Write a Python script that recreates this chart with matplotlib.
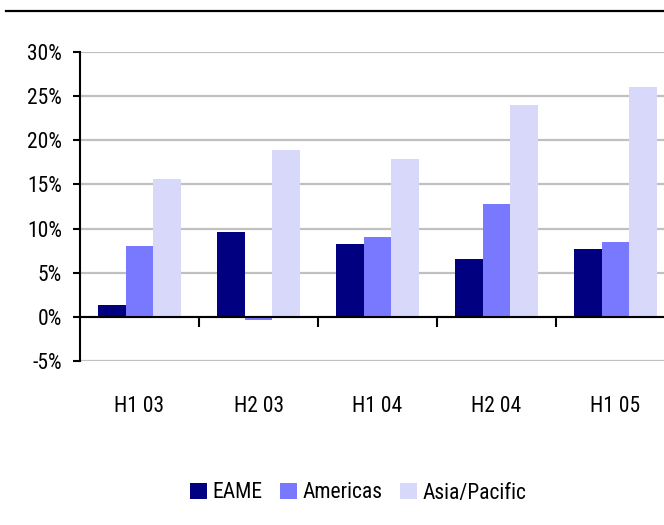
import matplotlib
matplotlib.use("Agg")
import matplotlib.pyplot as plt
from matplotlib.lines import Line2D
from matplotlib.ticker import FixedLocator, FuncFormatter
from matplotlib import font_manager
import numpy as np

categories = ["H1 03", "H2 03", "H1 04", "H2 04", "H1 05"]
series_names = ["EAME", "Americas", "Asia/Pacific"]
eame = [1.3, 9.6, 8.2, 6.6, 7.7]
americas = [8.0, -0.4, 9.0, 12.8, 8.5]
asia_pacific = [15.6, 18.9, 17.9, 24.0, 26.0]
y_ticks = [-5, 0, 5, 10, 15, 20, 25, 30]

colors = ["#000080", "#7979FF", "#D8D8FA"]

# pick a condensed font if one is installed
fam, stretch = 'Liberation Sans', 'normal'
names = {(f.name, f.stretch) for f in font_manager.fontManager.ttflist}
for cand in ['Liberation Sans Narrow', 'Roboto Condensed', 'Open Sans Condensed', 'DejaVu Sans Condensed']:
    if any(n == cand for n, s in names):
        fam = cand
        break
else:
    for n, s in names:
        if n == 'DejaVu Sans' and s in ('condensed', 'semi-condensed', 600, 700, 500):
            fam, stretch = 'DejaVu Sans', 'condensed'
            break
    for n, s in names:
        if n in ('Roboto', 'Open Sans', 'Noto Sans') and s in ('condensed', 'semi-condensed'):
            fam, stretch = n, s
            break

plt.rcParams['font.family'] = [fam, 'Liberation Sans', 'DejaVu Sans']
plt.rcParams['font.stretch'] = stretch
condensed = fam != 'Liberation Sans'
fs = 15.5 if condensed else 14.5

fig = plt.figure(figsize=(6.64, 5.25), dpi=100)
ax = fig.add_axes([80/664, 1-361/525, 595/664, (361-52)/525])

x = np.arange(len(categories))
w = 0.23
for i, (vals, name, c) in enumerate(zip([eame, americas, asia_pacific], series_names, colors)):
    ax.bar(x + (i-1)*w, vals, width=w, color=c, label=name, zorder=3)

ax.set_xlim(-0.5, len(categories)-0.5)
ax.set_ylim(-5, 30)
ax.set_yticks(y_ticks)
ax.yaxis.set_major_formatter(FuncFormatter(lambda v, p: f"{int(v)}%"))
ax.grid(axis='y', color='#C0C0C0', linewidth=1.6, zorder=0)
ax.set_axisbelow(True)

for s in ['top', 'right']:
    ax.spines[s].set_visible(False)
ax.spines['bottom'].set_position(('data', 0))
ax.spines['bottom'].set_linewidth(1.5)
ax.spines['bottom'].set_zorder(4)
ax.spines['left'].set_linewidth(1.5)

ax.set_xticks(x)
ax.set_xticklabels(categories)
ax.xaxis.set_minor_locator(FixedLocator(np.arange(0.5, len(categories)-0.5, 1)))
ax.tick_params(axis='x', which='major', length=0, pad=57, labelsize=fs)
ax.tick_params(axis='x', which='minor', length=7.5, width=1.5, direction='out')
ax.tick_params(axis='y', length=5, width=1.5, direction='out', pad=8, labelsize=fs)

fig.add_artist(Line2D([6/664, 1.0], [1-11/525, 1-11/525], color='black', linewidth=1.6,
                      transform=fig.transFigure))

fig.legend(loc='center', bbox_to_anchor=(358/664, 1-493/525), ncol=3, frameon=False,
           fontsize=fs, handlelength=0.8, handleheight=0.8, handletextpad=0.25,
           columnspacing=0.8)

fig.savefig("out.png", dpi=100)
